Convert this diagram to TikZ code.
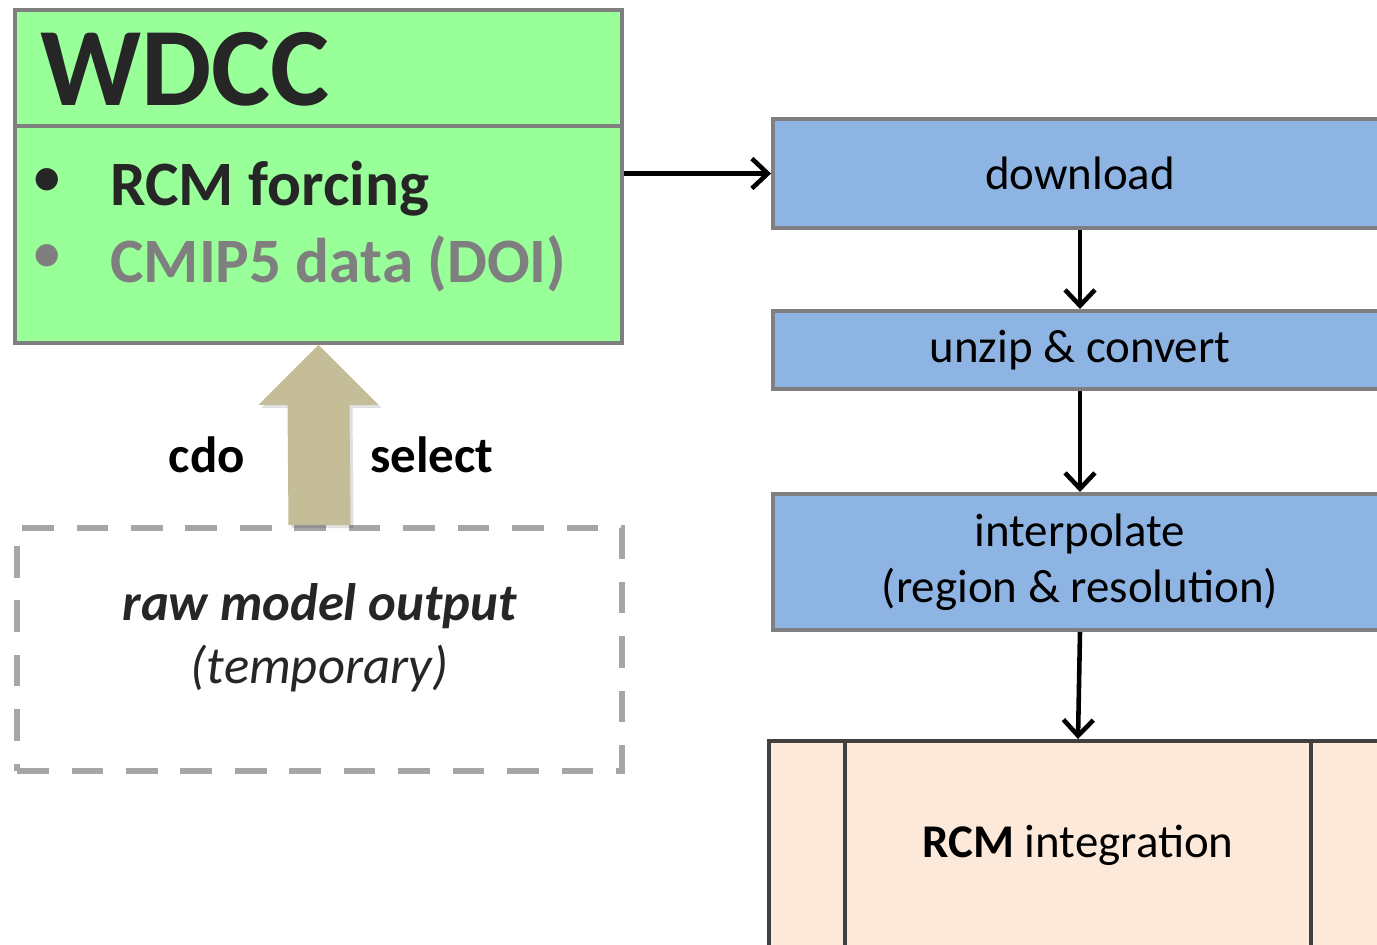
\documentclass[tikz,border=0pt]{standalone}
\usepackage{fontspec}
\setmainfont{Carlito}
\usetikzlibrary{arrows.meta,calc}

\definecolor{wdccgreen}{HTML}{99FF99}
\definecolor{framegray}{HTML}{7F7F7F}
\definecolor{stepblue}{HTML}{8EB4E3}
\definecolor{rcmpeach}{HTML}{FDE9D9}
\definecolor{rcmframe}{HTML}{404040}
\definecolor{cdotan}{HTML}{C4BD97}
\definecolor{dashgray}{HTML}{A6A6A6}
\definecolor{darktext}{HTML}{262626}

\tikzset{
  stepbox/.style={rectangle, draw=framegray, line width=2.3pt, fill=stepblue,
    minimum width=12.28cm, inner sep=0pt, align=center,
    font=\fontsize{26.7}{32}\selectfont},
  conn/.style={line width=2.6pt, -{Straight Barb[length=9pt,width=17pt]}},
  bigtext/.style={anchor=base west, inner sep=0pt, text=darktext},
}

\begin{document}
\begin{tikzpicture}[x=0.02cm,y=-0.02cm]

\useasboundingbox (0,0) rectangle (1377,944);

%WDCC archive
\node[rectangle, draw=framegray, line width=2.3pt, fill=wdccgreen,
  minimum width=12.14cm, minimum height=6.66cm] (wdcc) at (318.5,176.5) {};
\draw[framegray, line width=2.3pt] ($(wdcc.north west)!0.351!(wdcc.south west)$) -- ($(wdcc.north east)!0.351!(wdcc.south east)$);
\node[bigtext, font=\fontsize{63.5}{70}\selectfont\bfseries] (title) at (40,105) {WDCC};
\node[bigtext, font=\fontsize{36}{40}\selectfont\bfseries] (forcing) at (110,205) {RCM forcing};
\node[bigtext, text=framegray, font=\fontsize{36}{40}\selectfont\bfseries] (cmip) at (110,282) {CMIP5 data (DOI)};
\node[inner sep=0pt, text=darktext, font=\fontsize{36}{40}\selectfont] (bulletA) at (47,183) {•};
\node[inner sep=0pt, text=framegray, font=\fontsize{36}{40}\selectfont] (bulletB) at (47,259) {•};

%raw output
\node[rectangle, draw=dashgray, line width=3.4pt, dash pattern=on 18pt off 13pt,
  minimum width=12.1cm, minimum height=4.86cm] (raw) at (319.5,649.5) {};
\node[align=center, text=darktext, font=\fontsize{30}{36}\selectfont\itshape] (rawtext)
  at ($(raw.center)+(0,-12)$) {\textbf{raw model output}\\(temporary)};

%cdo select arrow
\fill[black, opacity=0.12] ($(raw.north)+(-28,3)$) -- ($(wdcc.south)+(-28,63)$) -- ($(wdcc.south)+(-57,63)$)
  -- ($(wdcc.south)+(3,3)$) -- ($(wdcc.south)+(63,63)$) -- ($(wdcc.south)+(34,63)$) -- ($(raw.north)+(34,3)$) -- cycle;
\fill[cdotan] ($(raw.north)+(-31,0)$) -- ($(wdcc.south)+(-31,60)$) -- ($(wdcc.south)+(-60,60)$)
  -- (wdcc.south) -- ($(wdcc.south)+(60,60)$) -- ($(wdcc.south)+(31,60)$) -- ($(raw.north)+(31,0)$) -- cycle;
\node[font=\fontsize{29}{34}\selectfont\bfseries] (cdo) at (207,455) {cdo};
\node[font=\fontsize{29}{34}\selectfont\bfseries] (select) at (432,455) {select};

%processing steps
\node[stepbox, minimum height=2.18cm] (download) at (1080,173.5) {download};
\node[stepbox, minimum height=1.56cm] (unzip) at (1080,350) {unzip \& convert};
\node[stepbox, minimum height=2.72cm] (interp) at (1080,562) {interpolate\\(region \& resolution)};

%model run
\node[rectangle, draw=rcmframe, line width=2.3pt, fill=rcmpeach, minimum width=12.36cm,
  minimum height=4.16cm, font=\fontsize{26.7}{31}\selectfont] (rcm) at (1078,845)
  {\textbf{RCM} integration};
\draw[rcmframe, line width=2.3pt] ([xshift=1.56cm]rcm.north west) -- ([xshift=1.56cm]rcm.south west);
\draw[rcmframe, line width=2.3pt] ([xshift=-1.56cm]rcm.north east) -- ([xshift=-1.56cm]rcm.south east);

%connecting them
\draw[conn] (wdcc.east |- download.west) -- (download.west);
\draw[conn] (download) -- (unzip);
\draw[conn] (unzip) -- (interp);
\draw[conn] (interp.south) -- (rcm.north);

\end{tikzpicture}
\end{document}
